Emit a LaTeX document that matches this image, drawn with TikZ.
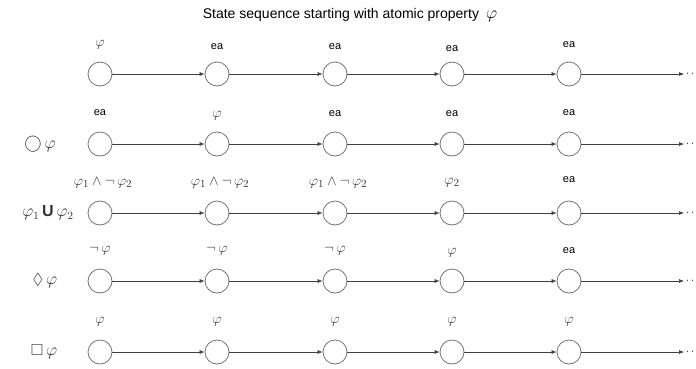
\documentclass[tikz,border=0pt]{standalone}
\usepackage{fontspec}
\setmainfont{Liberation Sans}
\usepackage{amssymb}
\usetikzlibrary{arrows.meta}
\begin{document}
\begin{tikzpicture}[x=1pt,y=-1pt,
  state/.style={circle,draw=black!55,line width=0.8pt,minimum size=24pt,inner sep=0pt},
  conn/.style={draw=black!75,line width=0.6pt,-{Latex[length=5pt,width=4pt]}},
  lab/.style={font=\fontsize{11}{13}\selectfont,inner sep=0pt},
  mlab/.style={font=\fontsize{15}{17}\selectfont,inner sep=0pt,text=black!80},
  side/.style={font=\fontsize{16}{18}\selectfont,inner sep=0pt,text=black!80}]
\useasboundingbox (0,0) rectangle (696,368);
\node[font=\fontsize{14}{16}\selectfont,inner sep=0pt] (title) at (350,15) {State sequence starting with atomic property\enspace {\fontsize{16}{18}\selectfont$\varphi$}};
\foreach \r/\y in {1/74,2/144,3/213,4/281,5/352}{
  \foreach \i/\x in {1/100,2/217,3/335,4/452,5/569}{
    \node[state] (s\r\i) at (\x,\y) {};
  }
  \coordinate (e\r) at (684,\y);
  \node[lab,anchor=west] (d\r) at (686,\y) {$\cdot\,\cdot$};
  \foreach \i [evaluate=\i as \j using int(\i+1)] in {1,2,3,4}{
    \draw[conn] (s\r\i) -- (s\r\j);
  }
  \draw[conn] (s\r5) -- (e\r);
}
% row 1 labels
\node[mlab] (l11) at (100,45) {$\varphi$};
\node[lab] (l12) at (217,47) {ea};
\node[lab] (l13) at (335,47) {ea};
\node[lab] (l14) at (452,49) {ea};
\node[lab] (l15) at (569,45) {ea};
% row 2
\node[lab] (l21) at (100,113) {ea};
\node[mlab] (l22) at (217,116) {$\varphi$};
\node[lab] (l23) at (335,114) {ea};
\node[lab] (l24) at (452,114) {ea};
\node[lab] (l25) at (569,113) {ea};
% row 3
\node[mlab] (l31) at (103,183) {$\varphi_1\wedge\neg\,\varphi_2$};
\node[mlab] (l32) at (220,183) {$\varphi_1\wedge\neg\,\varphi_2$};
\node[mlab] (l33) at (338,183) {$\varphi_1\wedge\neg\,\varphi_2$};
\node[mlab] (l34) at (452,183) {$\varphi_2$};
\node[lab] (l35) at (569,180) {ea};
% row 4
\node[mlab] (l41) at (100,251) {$\neg\,\varphi$};
\node[mlab] (l42) at (217,251) {$\neg\,\varphi$};
\node[mlab] (l43) at (335,251) {$\neg\,\varphi$};
\node[mlab] (l44) at (452,253) {$\varphi$};
\node[lab] (l45) at (569,251) {ea};
% row 5
\node[mlab] (l51) at (100,322) {$\varphi$};
\node[mlab] (l52) at (217,322) {$\varphi$};
\node[mlab] (l53) at (335,322) {$\varphi$};
\node[mlab] (l54) at (452,322) {$\varphi$};
\node[mlab] (l55) at (569,322) {$\varphi$};
% side labels
\node[side] (n2) at (40,144) {$\bigcirc\,\varphi$};
\node[side] (n3) at (48,213) {$\varphi_1\,\mathbf{U}\,\varphi_2$};
\node[side] (n4) at (45,281) {$\Diamond\,\varphi$};
\node[side] (n5) at (44,352) {$\Box\,\varphi$};
\end{tikzpicture}
\end{document}
